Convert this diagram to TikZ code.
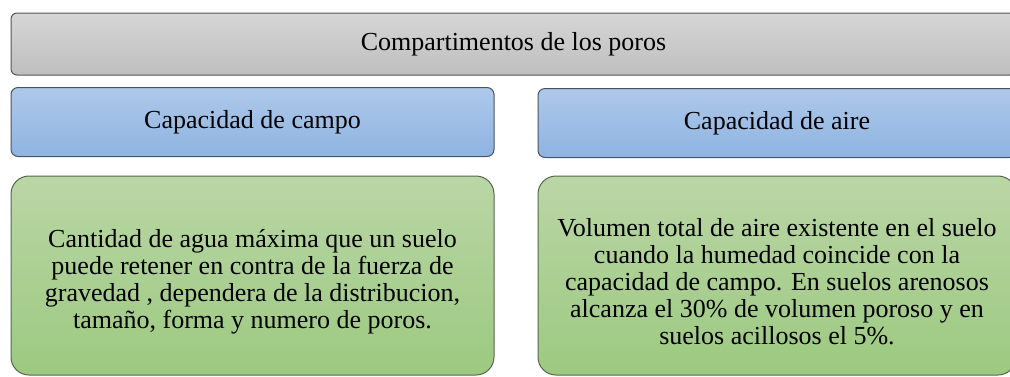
\documentclass[tikz,border=0pt]{standalone}
\usepackage{fontspec}
\setmainfont{Liberation Serif}
\definecolor{PoroTop}{RGB}{214, 214, 214}
\definecolor{PoroBot}{RGB}{190, 190, 190}
\definecolor{CampoTop}{RGB}{174, 200, 233}
\definecolor{CampoBot}{RGB}{142, 180, 226}
\definecolor{TextoTop}{RGB}{186, 214, 166}
\definecolor{TextoBot}{RGB}{156, 201, 128}
\definecolor{EdgeGray}{RGB}{85, 85, 85}
\definecolor{EdgeBlue}{RGB}{70, 84, 104}
\definecolor{EdgeGreen}{RGB}{84, 104, 74}
\usepackage{tikz}
\usetikzlibrary{positioning}

\begin{document}
\begin{tikzpicture}[x=1pt, y=-1pt, font=\fontsize{26}{27}\selectfont, line width=1pt,
  porobox/.style={draw=EdgeGray, top color=PoroTop, bottom color=PoroBot, rounded corners=6pt, minimum width=1005pt, minimum height=62pt},
  titlebox/.style={draw=EdgeBlue, top color=CampoTop, bottom color=CampoBot, rounded corners=7pt, minimum height=69pt},
  textbox/.style={draw=EdgeGreen, top color=TextoTop, bottom color=TextoBot, rounded corners=18pt, minimum height=199pt, align=center, inner sep=2pt}]
\useasboundingbox (0,0) rectangle (1010,376);
\clip (0,0) rectangle (1010,376);
\node[porobox] (poros) at (513.5,44) {Compartimentos de los poros};
\node[titlebox, minimum width=483pt] (campo) at (252.5,122) {Capacidad de campo};
\node[titlebox, minimum width=478pt] (aire) at (777,123) {Capacidad de aire};
\node[textbox, minimum width=483pt] (campotxt) at (252.5,275.5) {\rule{0pt}{30pt}Cantidad de agua máxima que un suelo\\ puede retener en contra de la fuerza de\\ gravedad , dependera de la distribucion,\\ tamaño, forma y numero de poros.};
\node[textbox, minimum width=478pt] (airetxt) at (777,275.5) {\rule{0pt}{30pt}Volumen total de aire existente en el suelo\\ cuando la humedad coincide con la\\ capacidad de campo. En suelos arenosos\\ alcanza el 30\% de volumen poroso y en\\ suelos acillosos el 5\%.};
\end{tikzpicture}
\end{document}
